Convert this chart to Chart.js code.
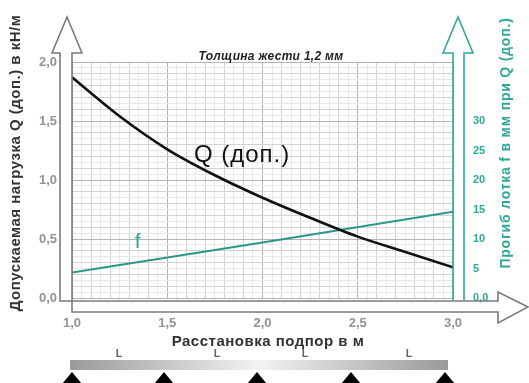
<!DOCTYPE html>
<html>
<head>
<meta charset="utf-8">
<script src="https://cdn.jsdelivr.net/npm/chart.js@4.4.0/dist/chart.umd.min.js"></script>
<style>
  html, body { margin: 0; padding: 0; background: #fff; }
  #wrap { width: 529px; height: 383px; }
</style>
</head>
<body>
<div id="wrap"><canvas id="chart" width="529" height="383"></canvas></div>
<script>
// расстановка подпор (м) и допускаемая нагрузка Q (кН/м)
var spacingQ = [1.0, 1.25, 1.5, 1.75, 2.0, 2.25, 2.5, 2.75, 3.0];
var loadQ = [1.87, 1.54, 1.26, 1.04, 0.85, 0.68, 0.52, 0.39, 0.26];
// прогиб лотка f (мм)
var spacingF = [1.0, 2.0, 3.0];
var deflectionF = [4.3, 9.4, 14.6];

var leftTicks = [0, 0.5, 1.0, 1.5, 2.0];
var rightTicks = [0, 5, 10, 15, 20, 25, 30];
var spanLabels = ["L", "L", "L", "L"];

var TEAL = "#2fa79a";
var GRAY_TXT = "#939393";
var FONT = '"Liberation Sans", Arial, sans-serif';

function near(v, step) {
  return Math.abs(v / step - Math.round(v / step)) < 1e-6;
}
function comma(v) {
  return v.toFixed(1).replace(".", ",");
}
function gridColor(v) {
  if (near(v, 0.5)) return "#b4b4b4";
  if (near(v, 0.1)) return "#d2d2d2";
  return "#e8e8e8";
}

const decor = {
  id: "decor",
  afterDraw(chart) {
    const c = chart.ctx;
    const x = chart.scales.x;
    const y = chart.scales.y;
    c.save();

    // серые стрелки осей (полые)
    c.strokeStyle = "#7a7a7a";
    c.lineWidth = 1.6;
    c.beginPath();
    c.moveTo(60, 301);
    c.lineTo(60, 53);
    c.lineTo(52, 53);
    c.lineTo(67, 17);
    c.lineTo(82, 53);
    c.lineTo(72, 53);
    c.lineTo(72, 312);
    c.lineTo(498, 312);
    c.lineTo(498, 323);
    c.lineTo(528, 307);
    c.lineTo(498, 292);
    c.lineTo(498, 301);
    c.closePath();
    c.stroke();

    // бирюзовая стрелка правой оси
    c.strokeStyle = TEAL;
    c.beginPath();
    c.moveTo(453, 300);
    c.lineTo(453, 53);
    c.lineTo(443, 53);
    c.lineTo(458, 17);
    c.lineTo(473, 53);
    c.lineTo(464, 53);
    c.lineTo(464, 300);
    c.stroke();

    // заголовок
    c.save();
    c.fillStyle = "#222";
    c.font = "italic bold 12px " + FONT;
    c.letterSpacing = "0.3px";
    c.textAlign = "center";
    c.textBaseline = "alphabetic";
    c.fillText("Толщина жести 1,2 мм", 271, 60);
    c.restore();

    // подписи осей
    c.save();
    c.translate(16, 163);
    c.rotate(-Math.PI / 2);
    c.font = "bold 15px " + FONT;
    c.letterSpacing = "0.5px";
    c.fillStyle = "#333";
    c.textAlign = "center";
    c.textBaseline = "middle";
    c.fillText("Допускаемая нагрузка Q (доп.) в кН/м", 0, 0);
    c.restore();

    c.save();
    c.translate(506, 143);
    c.rotate(-Math.PI / 2);
    c.font = "bold 14px " + FONT;
    c.letterSpacing = "0.8px";
    c.fillStyle = TEAL;
    c.textAlign = "center";
    c.textBaseline = "middle";
    c.fillText("Прогиб лотка f в мм при Q (доп.)", 0, 0);
    c.restore();

    c.save();
    c.font = "bold 15px " + FONT;
    c.letterSpacing = "0.5px";
    c.fillStyle = "#333";
    c.textAlign = "center";
    c.textBaseline = "middle";
    c.fillText("Расстановка подпор в м", 268, 342);
    c.restore();

    // подписи кривых
    c.textAlign = "left";
    c.textBaseline = "middle";
    c.save();
    c.font = "24px " + FONT;
    c.letterSpacing = "1px";
    c.fillStyle = "#111";
    c.fillText("Q (доп.)", x.getPixelForValue(1.64), y.getPixelForValue(1.21));
    c.restore();
    c.font = "21px " + FONT;
    c.fillStyle = TEAL;
    c.fillText("f", x.getPixelForValue(1.33), y.getPixelForValue(0.47));

    // схема балки на опорах
    const bx0 = 70, bx1 = 448;
    const g = c.createLinearGradient(bx0, 0, bx1, 0);
    g.addColorStop(0, "#9a9a9a");
    g.addColorStop(0.5, "#f2f2f2");
    g.addColorStop(1, "#9a9a9a");
    c.fillStyle = g;
    c.fillRect(bx0, 360, bx1 - bx0, 10);
    c.font = "bold 11px " + FONT;
    c.fillStyle = "#666";
    c.textAlign = "center";
    const labX = [119, 217, 305, 409];
    spanLabels.forEach(function (t, i) {
      c.fillText(t, labX[i], 354);
    });
    c.fillStyle = "#000";
    const sup = [72, 164, 257, 351, 445];
    sup.forEach(function (sx) {
      c.beginPath();
      c.moveTo(sx, 372);
      c.lineTo(sx + 10, 384);
      c.lineTo(sx - 10, 384);
      c.closePath();
      c.fill();
    });
    c.restore();
  }
};

new Chart(document.getElementById("chart"), {
  type: "line",
  data: {
    datasets: [
      {
        label: "Q (доп.)",
        data: spacingQ.map(function (s, i) { return { x: s, y: loadQ[i] }; }),
        borderColor: "#111",
        borderWidth: 2.6,
        pointRadius: 0,
        cubicInterpolationMode: "monotone",
        yAxisID: "y"
      },
      {
        label: "f",
        data: spacingF.map(function (s, i) { return { x: s, y: deflectionF[i] }; }),
        borderColor: "#2a978c",
        borderWidth: 2,
        pointRadius: 0,
        yAxisID: "y2"
      }
    ]
  },
  options: {
    responsive: false,
    animation: false,
    layout: { padding: { top: 62, left: 0, right: 0, bottom: 0 } },
    plugins: { legend: { display: false }, tooltip: { enabled: false } },
    scales: {
      x: {
        type: "linear",
        min: 1,
        max: 3,
        afterFit: function (s) { s.height = 85; },
        border: { display: false },
        grid: {
          drawTicks: false,
          color: function (ctx) { return gridColor(ctx.tick.value); }
        },
        ticks: {
          stepSize: 0.05,
          autoSkip: false,
          maxRotation: 0,
          padding: 18,
          color: GRAY_TXT,
          font: { family: FONT, size: 13, weight: "bold" },
          callback: function (v) { return near(v, 0.5) ? comma(v) : ""; }
        }
      },
      y: {
        position: "left",
        min: 0,
        max: 2,
        afterFit: function (s) { s.width = 72; },
        border: { display: false },
        grid: {
          drawTicks: false,
          color: function (ctx) { return gridColor(ctx.tick.value); }
        },
        ticks: {
          stepSize: 0.05,
          autoSkip: false,
          padding: 15,
          color: GRAY_TXT,
          font: { family: FONT, size: 13, weight: "bold" },
          callback: function (v) {
            return leftTicks.some(function (t) { return Math.abs(t - v) < 1e-6; }) ? comma(v) : "";
          }
        }
      },
      y2: {
        position: "right",
        min: 0,
        max: 40,
        afterFit: function (s) { s.width = 76; },
        border: { display: false },
        grid: { display: false, drawTicks: false },
        ticks: {
          stepSize: 5,
          autoSkip: false,
          padding: 20,
          color: TEAL,
          font: { family: FONT, size: 11, weight: "bold" },
          callback: function (v) {
            if (rightTicks.indexOf(v) < 0) return "";
            return v === 0 ? "0,0" : String(v);
          }
        }
      }
    }
  },
  plugins: [decor]
});
</script>
</body>
</html>
